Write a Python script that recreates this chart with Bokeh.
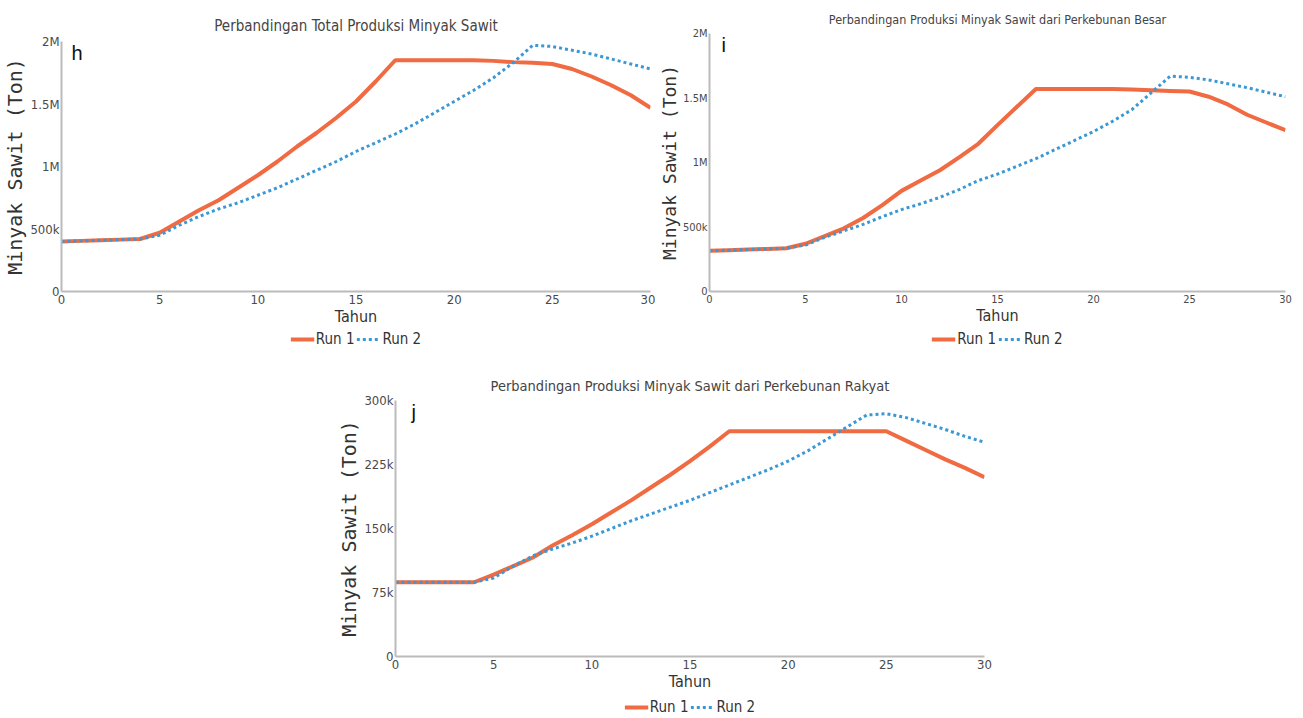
from bokeh.plotting import figure
from bokeh.models import FixedTicker, Legend, LegendItem, Label, Spacer
from bokeh.layouts import column, row
from bokeh.embed import file_html
from bokeh.resources import INLINE

years = list(range(31))

# Panel h: total production (tons)
h_run1 = [400e3, 405e3, 410e3, 415e3, 420e3, 470e3, 560e3, 650e3, 730e3, 830e3, 930e3,
          1040e3, 1160e3, 1270e3, 1390e3, 1520e3, 1680e3, 1850e3, 1850e3, 1850e3, 1850e3,
          1850e3, 1845e3, 1835e3, 1830e3, 1820e3, 1780e3, 1720e3, 1650e3, 1570e3, 1470e3]
h_run2 = [400e3, 405e3, 410e3, 415e3, 420e3, 450e3, 530e3, 600e3, 660e3, 710e3, 770e3,
          830e3, 900e3, 970e3, 1040e3, 1120e3, 1190e3, 1260e3, 1340e3, 1430e3, 1520e3,
          1610e3, 1710e3, 1830e3, 1970e3, 1960e3, 1930e3, 1900e3, 1860e3, 1820e3, 1780e3]

# Panel i: large plantations
i_run1 = [315e3, 320e3, 325e3, 330e3, 335e3, 370e3, 430e3, 490e3, 570e3, 670e3, 780e3,
          860e3, 940e3, 1040e3, 1145e3, 1290e3, 1430e3, 1570e3, 1570e3, 1570e3, 1570e3,
          1570e3, 1565e3, 1560e3, 1555e3, 1550e3, 1510e3, 1450e3, 1370e3, 1310e3, 1250e3]
i_run2 = [315e3, 320e3, 325e3, 330e3, 335e3, 360e3, 420e3, 470e3, 520e3, 580e3, 635e3,
          680e3, 730e3, 790e3, 860e3, 910e3, 970e3, 1030e3, 1100e3, 1170e3, 1240e3,
          1320e3, 1410e3, 1540e3, 1670e3, 1660e3, 1640e3, 1610e3, 1580e3, 1545e3, 1510e3]

# Panel j: smallholder plantations
j_run1 = [87e3, 87e3, 87e3, 87e3, 87e3, 96e3, 106e3, 116e3, 130e3, 142e3, 155e3,
          169e3, 183e3, 198e3, 213e3, 229e3, 246e3, 264e3, 264e3, 264e3, 264e3,
          264e3, 264e3, 264e3, 264e3, 264e3, 253e3, 242e3, 231e3, 221e3, 210e3]
j_run2 = [87e3, 87e3, 87e3, 87e3, 87e3, 92e3, 106e3, 118e3, 126e3, 133e3, 141e3,
          150e3, 159e3, 167e3, 175e3, 183e3, 192e3, 201e3, 210e3, 219e3, 229e3,
          241e3, 255e3, 269e3, 283e3, 284.5e3, 280e3, 273e3, 266e3, 258e3, 251e3]

x_ticks = [0, 5, 10, 15, 20, 25, 30]
hi_yticks = [0, 500e3, 1e6, 1.5e6, 2e6]
hi_ylabels = ["0", "500k", "1M", "1.5M", "2M"]
j_yticks = [0, 75e3, 150e3, 225e3, 300e3]
j_ylabels = ["0", "75k", "150k", "225k", "300k"]

titles = ["Perbandingan Total Produksi Minyak Sawit",
          "Perbandingan Produksi Minyak Sawit dari Perkebunan Besar",
          "Perbandingan Produksi Minyak Sawit dari Perkebunan Rakyat"]
letters = ["h", "i", "j"]
series_names = ["Run 1", "Run 2"]

ORANGE = "#F06A42"
BLUE = "#3A98D4"
NARROW = "'DejaVu Sans Condensed', 'Roboto Condensed', Roboto, sans-serif"
RUN1_STYLE = dict(line_color=ORANGE, line_width=4)
RUN2_STYLE = dict(line_color=BLUE, line_width=3, line_dash="3 3")


def panel(title, letter, r1, r2, yticks, ylabels, ymax, width, height, bl, br, bt, bb,
          tick_size, title_size, title_standoff, ylab_size, letter_dx):
    p = figure(width=width, height=height, output_backend="svg", toolbar_location=None,
               x_range=(0, 30), y_range=(0, ymax),
               min_border_left=bl, min_border_right=br, min_border_top=bt, min_border_bottom=bb)
    p.outline_line_color = None
    p.background_fill_color = "white"
    p.border_fill_color = "white"
    p.xgrid.visible = False
    p.ygrid.visible = False
    p.title.text = title
    p.title.align = "center"
    p.title.text_font = NARROW
    p.title.text_font_style = "normal"
    p.title.text_font_size = title_size
    p.title.text_color = "#444444"
    p.title.standoff = title_standoff

    for ax in (p.xaxis[0], p.yaxis[0]):
        ax.axis_line_color = "#BBBBBB"
        ax.axis_line_width = 2
        ax.major_tick_line_color = None
        ax.minor_tick_line_color = None
        ax.major_tick_out = 0
        ax.major_tick_in = 0
        ax.minor_tick_out = 0
        ax.minor_tick_in = 0
        ax.major_label_text_font = NARROW
        ax.major_label_text_font_size = tick_size
        ax.major_label_text_color = "#4a4a4a"
        ax.major_label_standoff = 3
    p.yaxis.major_label_standoff = 2
    p.xaxis.ticker = FixedTicker(ticks=x_ticks)
    p.yaxis.ticker = FixedTicker(ticks=yticks)
    p.yaxis.major_label_overrides = {t: l for t, l in zip(yticks, ylabels)}
    p.xaxis.axis_label = "Tahun"
    p.xaxis.axis_label_text_font = NARROW
    p.xaxis.axis_label_text_font_style = "normal"
    p.xaxis.axis_label_text_font_size = "16px"
    p.xaxis.axis_label_text_color = "#333333"
    p.xaxis.axis_label_standoff = 0
    p.yaxis.axis_label = "Minyak Sawit (Ton)"
    p.yaxis.axis_label_text_font = "DejaVu Sans Mono"
    p.yaxis.axis_label_text_font_style = "normal"
    p.yaxis.axis_label_text_font_size = ylab_size
    p.yaxis.axis_label_text_color = "#333333"
    p.yaxis.axis_label_standoff = 0

    p.line(years, r1, **RUN1_STYLE)
    p.line(years, r2, **RUN2_STYLE)

    p.add_layout(Label(x=letter_dx, y=ymax, x_units="screen", y_units="data",
                       text=letter, text_font="Liberation Sans", text_font_size="20px",
                       text_color="#111111", text_baseline="top", text_align="left"))
    return p


def legend_strip(width, height, bl, br, r1, r2):
    # ranges chosen so the series themselves fall outside the strip; only the legend shows
    lf = figure(width=width, height=height, output_backend="svg", toolbar_location=None,
                x_range=(-10, -9), y_range=(-10, -9), min_border_left=bl, min_border_right=br,
                min_border_top=0, min_border_bottom=0)
    lf.axis.visible = False
    lf.grid.visible = False
    lf.outline_line_color = None
    g1 = lf.line(years, r1, **RUN1_STYLE)
    g2 = lf.line(years, r2, **RUN2_STYLE)
    legend = Legend(items=[LegendItem(label=series_names[0], renderers=[g1]),
                           LegendItem(label=series_names[1], renderers=[g2])],
                    orientation="horizontal", location="center",
                    border_line_color=None, background_fill_alpha=0,
                    label_text_font=NARROW, label_text_font_size="15px",
                    label_text_color="#333333", glyph_width=24, glyph_height=16,
                    label_height=16, label_standoff=2, spacing=2, padding=0, margin=0)
    lf.add_layout(legend, "center")
    return lf


ph = panel(titles[0], letters[0], h_run1, h_run2, hi_yticks, hi_ylabels, 2e6,
           655, 328, 56, 5, 41, 37, "13px", "15px", 14, "20px", 10)
pi = panel(titles[1], letters[1], i_run1, i_run2, hi_yticks, hi_ylabels, 2e6,
           648, 328, 45, 18, 33, 37, "11px", "12.5px", 14, "18px", 12)
pj = panel(titles[2], letters[2], j_run1, j_run2, j_yticks, j_ylabels, 300e3,
           660, 346, 56, 10, 50, 40, "13px", "14.5px", 14, "20px", 16)

lh = legend_strip(655, 22, 59, 5, h_run1, h_run2)
li = legend_strip(648, 22, 45, 18, i_run1, i_run2)
lj = legend_strip(660, 22, 56, 10, j_run1, j_run2)

layout = column(row(column(ph, lh), column(pi, li)),
                row(Spacer(width=334, height=368), column(pj, lj)))

open("out.html", "w").write(file_html(layout, INLINE))
